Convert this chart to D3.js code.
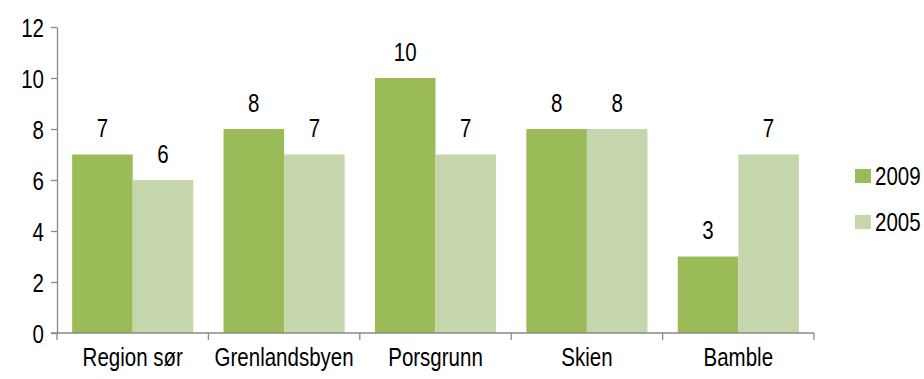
<!DOCTYPE html>
<html><head><meta charset="utf-8">
<script src="https://cdn.jsdelivr.net/npm/d3@7"></script>
<style>body{margin:0;background:#fff}svg{display:block}text{font-family:"Liberation Sans Narrow","Liberation Sans",Arial,sans-serif;fill:#000}</style>
</head><body><svg id="c" width="924" height="379"></svg>
<script>
const categories = ["Region sør","Grenlandsbyen","Porsgrunn","Skien","Bamble"];
const seriesNames = ["2009","2005"];
const values2009 = [7,8,10,8,3];
const values2005 = [6,7,7,8,7];
const yTicks = [0,2,4,6,8,10,12];
const colors = ["#9BBB59","#C6D6AC"];

const svg = d3.select("#c");
const x0 = 57, x1 = 814, yBase = 333, yTop = 27;
const x = d3.scaleBand().domain(categories).range([x0,x1]).paddingInner(0).paddingOuter(0);
const xs = d3.scaleBand().domain(seriesNames).range([0,x.bandwidth()]).paddingInner(0).paddingOuter(0.25);
const y = d3.scaleLinear().domain([0,12]).range([yBase,yTop]);
const fs = 25;
const sx = 0.82; // narrow text

function narrow(sel, xpos){
  sel.attr("transform",`scale(${sx},1)`).attr("x", xpos/sx);
}

// y axis
const yAxis = svg.append("g").attr("transform",`translate(${x0},0)`)
  .call(d3.axisLeft(y).tickValues(yTicks).tickSize(6).tickPadding(8).tickSizeOuter(0));
yAxis.select(".domain").attr("stroke","#888").attr("stroke-width",1.3);
yAxis.selectAll(".tick line").attr("stroke","#888").attr("stroke-width",1.3);
yAxis.selectAll(".tick text").attr("font-size",fs).attr("font-family",null).attr("fill","#000").attr("dy","0.36em")
  .call(s=>narrow(s,-13));

// bars
const data = categories.map((c,i)=>({c, vals:[values2009[i],values2005[i]]}));
const g = svg.append("g");
data.forEach(d=>{
  d.vals.forEach((v,j)=>{
    const bx = x(d.c)+xs(seriesNames[j]);
    g.append("rect").attr("x",bx).attr("width",xs.bandwidth()).attr("y",y(v)).attr("height",yBase-y(v)).attr("fill",colors[j]);
    g.append("text").attr("y",y(v)-17).attr("text-anchor","middle").attr("font-size",fs).text(v)
      .call(s=>narrow(s,bx+xs.bandwidth()/2));
  });
});

// x axis
const xAxis = svg.append("g").attr("transform",`translate(0,${yBase})`)
  .call(d3.axisBottom(x).tickSize(0).tickPadding(15).tickSizeOuter(0));
xAxis.select(".domain").remove();
xAxis.selectAll(".tick text").attr("font-size",fs).attr("font-family",null).attr("fill","#000").attr("dy","0.71em")
  .call(s=>narrow(s,0));
svg.append("line").attr("x1",x0-6).attr("x2",x1).attr("y1",yBase).attr("y2",yBase).attr("stroke","#888").attr("stroke-width",1.3);
const bounds = categories.map(c=>x(c)).concat([x1]);
svg.selectAll(".xt").data(bounds).enter().append("line").attr("x1",d=>d).attr("x2",d=>d).attr("y1",yBase).attr("y2",yBase+7).attr("stroke","#888").attr("stroke-width",1.3);

// legend
const leg = svg.append("g");
seriesNames.forEach((s,i)=>{
  const ly = 169 + i*46;
  leg.append("rect").attr("x",855).attr("y",ly).attr("width",16).attr("height",14).attr("fill",colors[i]);
  leg.append("text").attr("y",ly+7).attr("dy","0.36em").attr("font-size",fs).text(s)
    .call(t=>narrow(t,875));
});
</script></body></html>
